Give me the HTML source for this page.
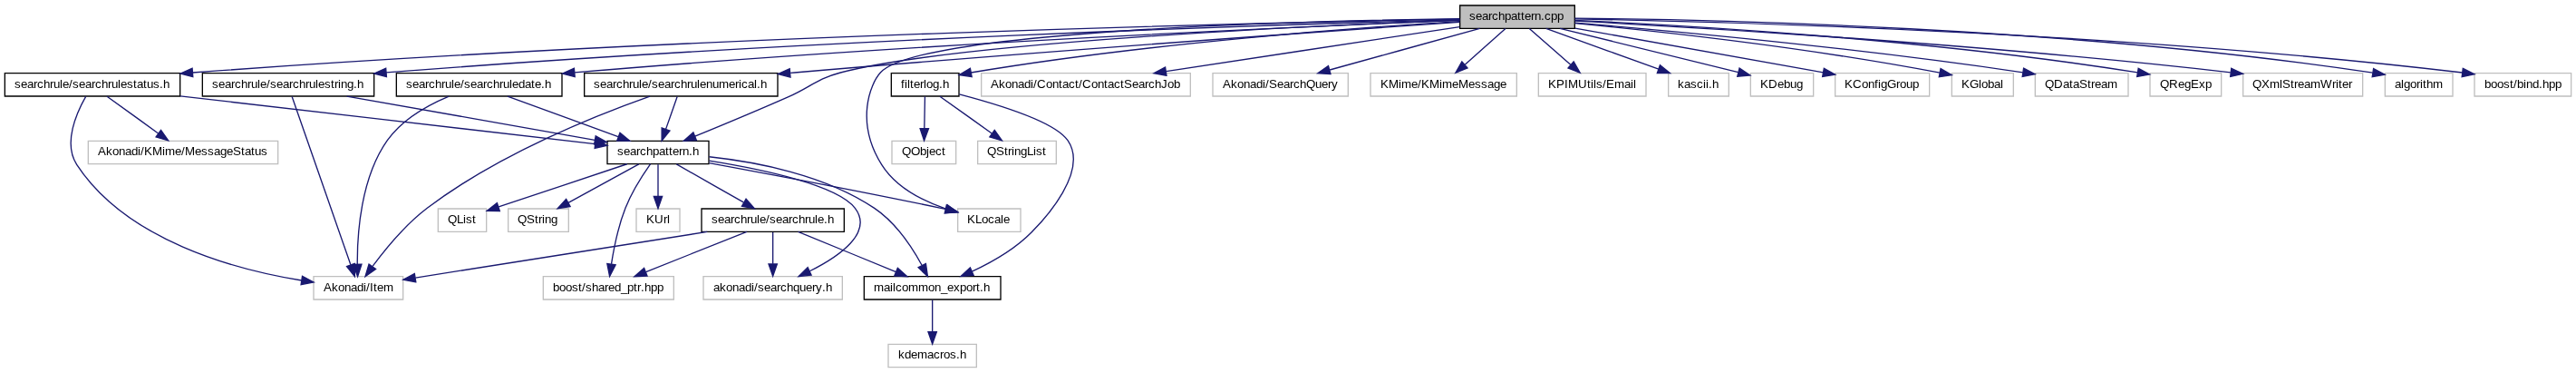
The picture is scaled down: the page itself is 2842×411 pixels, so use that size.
<!DOCTYPE html>
<html><head><meta charset="utf-8"><title>searchpattern.cpp</title>
<style>
html,body{margin:0;padding:0;background:#fff;}
body{width:2842px;height:411px;overflow:hidden;font-family:"Liberation Sans",sans-serif;}
svg{display:block;will-change:transform;}
svg text{font-family:"Liberation Sans",sans-serif;font-size:10px;fill:#000;}
</style></head><body>
<svg width="2842" height="411" viewBox="0 0 2131.5 308.25">
<g transform="scale(1 1) rotate(0) translate(4 304)">
<polygon fill="white" stroke="none" points="-4,4 -4,-304 2127.5,-304 2127.5,4 -4,4"/>
<g>
<polygon fill="#bfbfbf" stroke="black" points="1204,-280.5 1204,-299.5 1299,-299.5 1299,-280.5 1204,-280.5"/>
<text x="1211.75 1217.00 1222.25 1227.50 1230.50 1235.75 1241.00 1246.25 1251.50 1254.50 1257.50 1262.75 1265.75 1271.00 1274.00 1279.25 1284.50" y="-287.5">searchpattern.cpp</text>
</g>
<g>
<polygon fill="white" stroke="black" points="479.5,-224.5 479.5,-243.5 639.5,-243.5 639.5,-224.5 479.5,-224.5"/>
<text x="487.25 492.50 497.75 503.00 506.00 511.25 516.50 519.50 524.75 527.00 532.25 535.25 540.50 545.75 551.00 554.00 559.25 564.50 567.50 572.75 575.00 580.25 585.50 590.75 599.00 604.25 607.25 609.50 614.75 620.00 622.25 625.25" y="-231.5">searchrule/searchrulenumerical.h</text>
</g>
<g>
<path fill="none" stroke="#191970" d="M1203.8,-285.74C1102.44,-278.74 858.12,-261.49 653.5,-244 652.38,-243.9 651.25,-243.81 650.11,-243.71"/>
<polygon fill="#191970" stroke="#191970" points="650.01,-240.19 639.74,-242.79 649.4,-247.16 650.01,-240.19"/>
</g>
<g>
<polygon fill="white" stroke="black" points="498.5,-168.5 498.5,-187.5 582.5,-187.5 582.5,-168.5 498.5,-168.5"/>
<text x="506.75 512.00 517.25 522.50 525.50 530.75 536.00 541.25 546.50 549.50 552.50 557.75 560.75 566.00 569.00" y="-175.5">searchpattern.h</text>
</g>
<g>
<path fill="none" stroke="#191970" d="M1203.91,-287.34C1086.92,-282.91 787.82,-269.39 691.5,-244 671.12,-238.63 667.79,-232.5 648.5,-224 622.55,-212.56 592.78,-200.22 571.08,-191.35"/>
<polygon fill="#191970" stroke="#191970" points="572.3,-188.07 561.72,-187.54 569.66,-194.56 572.3,-188.07"/>
</g>
<g>
<polygon fill="white" stroke="#bfbfbf" points="788.5,-112.5 788.5,-131.5 840.5,-131.5 840.5,-112.5 788.5,-112.5"/>
<text x="796.25 803.00 808.25 813.50 818.75 824.00 826.25" y="-119.5">KLocale</text>
</g>
<g>
<path fill="none" stroke="#191970" d="M1203.61,-288.52C1079.8,-286.78 756.56,-278.92 724.5,-244 716.09,-234.84 703.43,-203.18 725.5,-168 737.25,-149.27 759.43,-138.02 778.71,-131.46"/>
<polygon fill="#191970" stroke="#191970" points="779.94,-134.74 788.46,-128.44 777.87,-128.06 779.94,-134.74"/>
</g>
<g>
<polygon fill="white" stroke="black" points="324,-224.5 324,-243.5 461,-243.5 461,-224.5 324,-224.5"/>
<text x="332.00 337.25 342.50 347.75 350.75 356.00 361.25 364.25 369.50 371.75 377.00 380.00 385.25 390.50 395.75 398.75 404.00 409.25 412.25 417.50 419.75 425.00 430.25 435.50 438.50 443.75 446.75" y="-231.5">searchrule/searchruledate.h</text>
</g>
<g>
<path fill="none" stroke="#191970" d="M1203.89,-287.21C1083.27,-282.46 755.68,-268.31 471.47,-244.03"/>
<polygon fill="#191970" stroke="#191970" points="471.65,-240.53 461.38,-243.16 471.05,-247.51 471.65,-240.53"/>
</g>
<g>
<polygon fill="white" stroke="black" points="733.5,-224.5 733.5,-243.5 789.5,-243.5 789.5,-224.5 733.5,-224.5"/>
<text x="741.50 744.50 746.75 749.00 752.00 757.25 760.25 762.50 767.75 773.00 776.00" y="-231.5">filterlog.h</text>
</g>
<g>
<path fill="none" stroke="#191970" d="M1203.72,-286.34C1120.95,-281.28 945.72,-268.48 799.5,-244 799.4,-243.98 799.3,-243.97 799.2,-243.95"/>
<polygon fill="#191970" stroke="#191970" points="800.12,-240.56 789.64,-242.11 798.79,-247.44 800.12,-240.56"/>
</g>
<g>
<polygon fill="white" stroke="#bfbfbf" points="808,-224.5 808,-243.5 981,-243.5 981,-224.5 808,-224.5"/>
<text x="815.75 822.50 827.75 833.00 838.25 843.50 848.75 851.00 854.00 861.50 866.75 872.00 875.00 880.25 885.50 888.50 891.50 899.00 904.25 909.50 912.50 917.75 923.00 926.00 932.75 938.00 943.25 946.25 951.50 956.75 962.00 967.25" y="-231.5">Akonadi/Contact/ContactSearchJob</text>
</g>
<g>
<path fill="none" stroke="#191970" d="M1203.72,-281.77C1141.25,-272.32 1031.47,-255.72 960.93,-245.05"/>
<polygon fill="#191970" stroke="#191970" points="961.22,-241.55 950.81,-243.52 960.18,-248.47 961.22,-241.55"/>
</g>
<g>
<polygon fill="white" stroke="black" points="0,-224.5 0,-243.5 145,-243.5 145,-224.5 0,-224.5"/>
<text x="8.00 13.25 18.50 23.75 26.75 32.00 37.25 40.25 45.50 47.75 53.00 56.00 61.25 66.50 71.75 74.75 80.00 85.25 88.25 93.50 95.75 101.00 106.25 109.25 114.50 117.50 122.75 128.00 131.00" y="-231.5">searchrule/searchrulestatus.h</text>
</g>
<g>
<path fill="none" stroke="#191970" d="M1203.85,-288.21C1052.32,-285.44 567.73,-274.7 155.39,-244.01"/>
<polygon fill="#191970" stroke="#191970" points="155.59,-240.51 145.35,-243.26 155.06,-247.49 155.59,-240.51"/>
</g>
<g>
<polygon fill="white" stroke="black" points="163.5,-224.5 163.5,-243.5 305.5,-243.5 305.5,-224.5 163.5,-224.5"/>
<text x="171.50 176.75 182.00 187.25 190.25 195.50 200.75 203.75 209.00 211.25 216.50 219.50 224.75 230.00 235.25 238.25 243.50 248.75 251.75 257.00 259.25 264.50 269.75 272.75 275.75 278.00 283.25 288.50 291.50" y="-231.5">searchrule/searchrulestring.h</text>
</g>
<g>
<path fill="none" stroke="#191970" d="M1203.65,-287.78C1066.89,-284.08 662.4,-271.51 315.56,-244.03"/>
<polygon fill="#191970" stroke="#191970" points="315.82,-240.54 305.58,-243.24 315.27,-247.52 315.82,-240.54"/>
</g>
<g>
<polygon fill="white" stroke="#bfbfbf" points="999.5,-224.5 999.5,-243.5 1111.5,-243.5 1111.5,-224.5 999.5,-224.5"/>
<text x="1007.75 1014.50 1019.75 1025.00 1030.25 1035.50 1040.75 1043.00 1046.00 1052.75 1058.00 1063.25 1066.25 1071.50 1076.75 1084.25 1089.50 1094.75 1097.75" y="-231.5">Akonadi/SearchQuery</text>
</g>
<g>
<path fill="none" stroke="#191970" d="M1220.44,-280.44C1186.9,-271.2 1133.3,-256.44 1096.36,-246.26"/>
<polygon fill="#191970" stroke="#191970" points="1096.98,-242.8 1086.41,-243.52 1095.12,-249.55 1096.98,-242.8"/>
</g>
<g>
<polygon fill="white" stroke="#bfbfbf" points="1130,-224.5 1130,-243.5 1251,-243.5 1251,-224.5 1130,-224.5"/>
<text x="1138.25 1145.00 1153.25 1155.50 1163.75 1169.00 1172.00 1178.75 1187.00 1189.25 1197.50 1202.75 1211.00 1216.25 1221.50 1226.75 1232.00 1237.25" y="-231.5">KMime/KMimeMessage</text>
</g>
<g>
<path fill="none" stroke="#191970" d="M1241.7,-280.32C1232.68,-272.34 1219.09,-260.31 1208.18,-250.65"/>
<polygon fill="#191970" stroke="#191970" points="1210.29,-247.84 1200.48,-243.83 1205.65,-253.08 1210.29,-247.84"/>
</g>
<g>
<polygon fill="white" stroke="#bfbfbf" points="1269,-224.5 1269,-243.5 1358,-243.5 1358,-224.5 1269,-224.5"/>
<text x="1277.00 1283.75 1290.50 1293.50 1301.75 1309.25 1312.25 1314.50 1316.75 1322.00 1325.00 1331.75 1340.00 1345.25 1347.50" y="-231.5">KPIMUtils/Email</text>
</g>
<g>
<path fill="none" stroke="#191970" d="M1261.46,-280.32C1270.63,-272.34 1284.44,-260.31 1295.53,-250.65"/>
<polygon fill="#191970" stroke="#191970" points="1298.12,-253.04 1303.36,-243.83 1293.52,-247.76 1298.12,-253.04"/>
</g>
<g>
<polygon fill="white" stroke="#bfbfbf" points="1376.5,-224.5 1376.5,-243.5 1426.5,-243.5 1426.5,-224.5 1376.5,-224.5"/>
<text x="1384.25 1389.50 1394.75 1400.00 1405.25 1407.50 1409.75 1412.75" y="-231.5">kascii.h</text>
</g>
<g>
<path fill="none" stroke="#191970" d="M1275.27,-280.44C1300.39,-271.4 1340.21,-257.06 1368.4,-246.92"/>
<polygon fill="#191970" stroke="#191970" points="1369.62,-250.2 1377.84,-243.52 1367.25,-243.61 1369.62,-250.2"/>
</g>
<g>
<polygon fill="white" stroke="#bfbfbf" points="1444.5,-224.5 1444.5,-243.5 1496.5,-243.5 1496.5,-224.5 1444.5,-224.5"/>
<text x="1452.50 1459.25 1466.75 1472.00 1477.25 1482.50" y="-231.5">KDebug</text>
</g>
<g>
<path fill="none" stroke="#191970" d="M1286.8,-280.5C1321.84,-272.03 1377.34,-258.54 1434.25,-244.29"/>
<polygon fill="#191970" stroke="#191970" points="1435.29,-247.64 1444.14,-241.82 1433.58,-240.85 1435.29,-247.64"/>
</g>
<g>
<polygon fill="white" stroke="#bfbfbf" points="1514.5,-224.5 1514.5,-243.5 1592.5,-243.5 1592.5,-224.5 1514.5,-224.5"/>
<text x="1522.25 1529.00 1536.50 1541.75 1547.00 1550.00 1552.25 1557.50 1565.00 1568.00 1573.25 1578.50" y="-231.5">KConfigGroup</text>
</g>
<g>
<path fill="none" stroke="#191970" d="M1299.28,-280.68C1348.25,-272.12 1426.9,-258.29 1504.52,-244.16"/>
<polygon fill="#191970" stroke="#191970" points="1505.26,-247.59 1514.47,-242.35 1504.01,-240.7 1505.26,-247.59"/>
</g>
<g>
<polygon fill="white" stroke="#bfbfbf" points="1611,-224.5 1611,-243.5 1662,-243.5 1662,-224.5 1611,-224.5"/>
<text x="1619.00 1625.75 1633.25 1635.50 1640.75 1646.00 1651.25" y="-231.5">KGlobal</text>
</g>
<g>
<path fill="none" stroke="#191970" d="M1299.07,-284.77C1364.76,-278.51 1487.08,-265.37 1601.03,-243.86"/>
<polygon fill="#191970" stroke="#191970" points="1601.8,-247.27 1610.97,-241.95 1600.49,-240.4 1601.8,-247.27"/>
</g>
<g>
<polygon fill="white" stroke="#bfbfbf" points="1680,-224.5 1680,-243.5 1757,-243.5 1757,-224.5 1680,-224.5"/>
<text x="1688.00 1695.50 1703.00 1708.25 1711.25 1716.50 1723.25 1726.25 1729.25 1734.50 1739.75" y="-231.5">QDataStream</text>
</g>
<g>
<path fill="none" stroke="#191970" d="M1299.22,-285.18C1375.47,-278.79 1529.69,-264.71 1669.76,-244.16"/>
<polygon fill="#191970" stroke="#191970" points="1670.44,-247.6 1679.81,-242.67 1669.41,-240.67 1670.44,-247.6"/>
</g>
<g>
<polygon fill="white" stroke="#bfbfbf" points="1775,-224.5 1775,-243.5 1834,-243.5 1834,-224.5 1775,-224.5"/>
<text x="1783.25 1790.75 1798.25 1803.50 1808.75 1815.50 1820.75" y="-231.5">QRegExp</text>
</g>
<g>
<path fill="none" stroke="#191970" d="M1299,-287.16C1388.46,-283.19 1588.12,-271.96 1764.72,-244.09"/>
<polygon fill="#191970" stroke="#191970" points="1765.39,-247.52 1774.71,-242.49 1764.28,-240.61 1765.39,-247.52"/>
</g>
<g>
<polygon fill="white" stroke="#bfbfbf" points="1852,-224.5 1852,-243.5 1951,-243.5 1951,-224.5 1852,-224.5"/>
<text x="1859.75 1867.25 1874.00 1882.25 1884.50 1891.25 1894.25 1897.25 1902.50 1907.75 1916.00 1925.75 1928.75 1931.00 1934.00 1939.25" y="-231.5">QXmlStreamWriter</text>
</g>
<g>
<path fill="none" stroke="#191970" d="M1299.2,-286.64C1398.33,-281.46 1634.03,-267.73 1841.68,-244.13"/>
<polygon fill="#191970" stroke="#191970" points="1842.32,-247.58 1851.86,-242.96 1841.53,-240.63 1842.32,-247.58"/>
</g>
<g>
<polygon fill="white" stroke="#bfbfbf" points="1969.5,-224.5 1969.5,-243.5 2025.5,-243.5 2025.5,-224.5 1969.5,-224.5"/>
<text x="1977.50 1982.75 1985.00 1990.25 1995.50 1998.50 2000.75 2003.75 2009.00" y="-231.5">algorithm</text>
</g>
<g>
<path fill="none" stroke="#191970" d="M1299.1,-288.85C1412.16,-287.87 1705.71,-281.73 1959.18,-243.93"/>
<polygon fill="#191970" stroke="#191970" points="1959.96,-247.35 1969.32,-242.39 1958.91,-240.43 1959.96,-247.35"/>
</g>
<g>
<polygon fill="white" stroke="#bfbfbf" points="2043.5,-224.5 2043.5,-243.5 2123.5,-243.5 2123.5,-224.5 2043.5,-224.5"/>
<text x="2051.75 2057.00 2062.25 2067.50 2072.75 2075.75 2078.75 2084.00 2086.25 2091.50 2096.75 2099.75 2105.00 2110.25" y="-231.5">boost/bind.hpp</text>
</g>
<g>
<path fill="none" stroke="#191970" d="M1299.35,-288.32C1420.54,-286.14 1749.53,-277.49 2033.37,-243.98"/>
<polygon fill="#191970" stroke="#191970" points="2033.94,-247.44 2043.45,-242.77 2033.11,-240.48 2033.94,-247.44"/>
</g>
<g>
<path fill="none" stroke="#191970" d="M556.36,-224.08C553.82,-216.85 550.14,-206.41 546.97,-197.4"/>
<polygon fill="#191970" stroke="#191970" points="550.2,-196.02 543.58,-187.75 543.6,-198.35 550.2,-196.02"/>
</g>
<g>
<polygon fill="white" stroke="#bfbfbf" points="255.5,-56.5 255.5,-75.5 329.5,-75.5 329.5,-56.5 255.5,-56.5"/>
<text x="263.75 270.50 275.75 281.00 286.25 291.50 296.75 299.00 302.00 305.00 308.00 313.25" y="-63.5">Akonadi/Item</text>
</g>
<g>
<path fill="none" stroke="#191970" d="M533.75,-224.45C492.23,-209.86 409.1,-177.27 349.5,-132 331.46,-118.3 314.88,-98.16 304.31,-83.93"/>
<polygon fill="#191970" stroke="#191970" points="306.96,-81.63 298.27,-75.57 301.28,-85.73 306.96,-81.63"/>
</g>
<g>
<polygon fill="white" stroke="black" points="711,-56.5 711,-75.5 824,-75.5 824,-56.5 711,-56.5"/>
<text x="719.00 727.25 732.50 734.75 737.00 742.25 747.50 755.75 764.00 769.25 774.50 779.75 785.00 790.25 795.50 800.75 803.75 806.75 809.75" y="-63.5">mailcommon_export.h</text>
</g>
<g>
<path fill="none" stroke="#191970" d="M582.84,-174.43C621.33,-170.32 678.24,-159.65 719.5,-132 737.11,-120.2 750.66,-99.68 758.8,-84.85"/>
<polygon fill="#191970" stroke="#191970" points="762.06,-86.15 763.56,-75.66 755.85,-82.93 762.06,-86.15"/>
</g>
<g>
<polygon fill="white" stroke="#bfbfbf" points="522.5,-112.5 522.5,-131.5 558.5,-131.5 558.5,-112.5 522.5,-112.5"/>
<text x="530.75 537.50 545.00 548.00" y="-119.5">KUrl</text>
</g>
<g>
<path fill="none" stroke="#191970" d="M540.5,-168.08C540.5,-161.01 540.5,-150.86 540.5,-141.99"/>
<polygon fill="#191970" stroke="#191970" points="544,-141.75 540.5,-131.75 537,-141.75 544,-141.75"/>
</g>
<g>
<polygon fill="white" stroke="#bfbfbf" points="358.5,-112.5 358.5,-131.5 398.5,-131.5 398.5,-112.5 358.5,-112.5"/>
<text x="366.50 374.00 379.25 381.50 386.75" y="-119.5">QList</text>
</g>
<g>
<path fill="none" stroke="#191970" d="M514.83,-168.44C485.97,-158.82 439.17,-143.22 408.61,-133.04"/>
<polygon fill="#191970" stroke="#191970" points="409.51,-129.65 398.92,-129.81 407.3,-136.29 409.51,-129.65"/>
</g>
<g>
<polygon fill="white" stroke="#bfbfbf" points="445.5,-56.5 445.5,-75.5 553.5,-75.5 553.5,-56.5 445.5,-56.5"/>
<text x="453.50 458.75 464.00 469.25 474.50 477.50 480.50 485.75 491.00 496.25 499.25 504.50 509.75 515.00 520.25 523.25 526.25 529.25 534.50 539.75" y="-63.5">boost/shared_ptr.hpp</text>
</g>
<g>
<path fill="none" stroke="#191970" d="M534.22,-168.48C528.06,-159.75 518.86,-145.56 513.5,-132 507.59,-117.05 503.97,-99.14 501.9,-85.91"/>
<polygon fill="#191970" stroke="#191970" points="505.31,-85.09 500.45,-75.68 498.38,-86.07 505.31,-85.09"/>
</g>
<g>
<path fill="none" stroke="#191970" d="M582.85,-169.27C629.79,-160.6 707.68,-145.94 774.5,-132 775.75,-131.74 777.03,-131.47 778.32,-131.19"/>
<polygon fill="#191970" stroke="#191970" points="779.25,-134.57 788.28,-129.02 777.76,-127.73 779.25,-134.57"/>
</g>
<g>
<polygon fill="white" stroke="#bfbfbf" points="578,-56.5 578,-75.5 693,-75.5 693,-56.5 578,-56.5"/>
<text x="586.25 591.50 596.75 602.00 607.25 612.50 617.75 620.00 623.00 628.25 633.50 638.75 641.75 647.00 652.25 657.50 662.75 668.00 671.00 676.25 679.25" y="-63.5">akonadi/searchquery.h</text>
</g>
<g>
<path fill="none" stroke="#191970" d="M582.87,-171.16C626.12,-164.23 688.92,-151.15 703.5,-132 718.85,-111.84 690.61,-92.23 665.98,-79.92"/>
<polygon fill="#191970" stroke="#191970" points="667.35,-76.7 656.81,-75.57 664.35,-83.02 667.35,-76.7"/>
</g>
<g>
<polygon fill="white" stroke="#bfbfbf" points="416.5,-112.5 416.5,-131.5 466.5,-131.5 466.5,-112.5 416.5,-112.5"/>
<text x="424.25 431.75 438.50 441.50 444.50 446.75 452.00" y="-119.5">QString</text>
</g>
<g>
<path fill="none" stroke="#191970" d="M524.59,-168.32C508.86,-159.74 484.56,-146.49 466.29,-136.52"/>
<polygon fill="#191970" stroke="#191970" points="467.82,-133.37 457.37,-131.65 464.47,-139.52 467.82,-133.37"/>
</g>
<g>
<polygon fill="white" stroke="black" points="576.5,-112.5 576.5,-131.5 694.5,-131.5 694.5,-112.5 576.5,-112.5"/>
<text x="584.75 590.00 595.25 600.50 603.50 608.75 614.00 617.00 622.25 624.50 629.75 632.75 638.00 643.25 648.50 651.50 656.75 662.00 665.00 670.25 672.50 677.75 680.75" y="-119.5">searchrule/searchrule.h</text>
</g>
<g>
<path fill="none" stroke="#191970" d="M555.76,-168.32C570.72,-159.82 593.75,-146.73 611.23,-136.8"/>
<polygon fill="#191970" stroke="#191970" points="613.31,-139.64 620.27,-131.65 609.85,-133.55 613.31,-139.64"/>
</g>
<g>
<polygon fill="white" stroke="#bfbfbf" points="731,-0.5 731,-19.5 804,-19.5 804,-0.5 731,-0.5"/>
<text x="739.25 744.50 749.75 755.00 763.25 768.50 773.75 776.75 782.00 787.25 790.25" y="-7.5">kdemacros.h</text>
</g>
<g>
<path fill="none" stroke="#191970" d="M767.5,-56.08C767.5,-49.01 767.5,-38.86 767.5,-29.99"/>
<polygon fill="#191970" stroke="#191970" points="771,-29.75 767.5,-19.75 764,-29.75 771,-29.75"/>
</g>
<g>
<path fill="none" stroke="#191970" d="M656.42,-112.44C678.24,-103.52 712.65,-89.44 737.39,-79.32"/>
<polygon fill="#191970" stroke="#191970" points="738.75,-82.54 746.68,-75.52 736.1,-76.06 738.75,-82.54"/>
</g>
<g>
<path fill="none" stroke="#191970" d="M613.95,-112.44C591.47,-103.52 556.01,-89.44 530.52,-79.32"/>
<polygon fill="#191970" stroke="#191970" points="531.53,-75.95 520.95,-75.52 528.95,-82.46 531.53,-75.95"/>
</g>
<g>
<path fill="none" stroke="#191970" d="M635.5,-112.08C635.5,-105.01 635.5,-94.86 635.5,-85.99"/>
<polygon fill="#191970" stroke="#191970" points="639,-85.75 635.5,-75.75 632,-85.75 639,-85.75"/>
</g>
<g>
<path fill="none" stroke="#191970" d="M581.15,-112.44C514.59,-101.96 402.92,-84.38 339.76,-74.44"/>
<polygon fill="#191970" stroke="#191970" points="340.1,-70.95 329.68,-72.85 339.01,-77.87 340.1,-70.95"/>
</g>
<g>
<path fill="none" stroke="#191970" d="M415.95,-224.44C440.63,-215.44 479.69,-201.19 507.48,-191.05"/>
<polygon fill="#191970" stroke="#191970" points="508.96,-194.23 517.16,-187.52 506.56,-187.66 508.96,-194.23"/>
</g>
<g>
<path fill="none" stroke="#191970" d="M367.47,-224.45C350.47,-217.34 328.9,-205.52 316.5,-188 294.61,-157.08 291.51,-111.11 291.69,-85.66"/>
<polygon fill="#191970" stroke="#191970" points="295.19,-85.62 291.94,-75.54 288.19,-85.44 295.19,-85.62"/>
</g>
<g>
<path fill="none" stroke="#191970" d="M789.76,-226.15C821.22,-217.89 869.02,-203.21 879.5,-188 896.96,-162.65 860.77,-123.38 849.5,-112 835.65,-98.01 816.53,-87.18 800.24,-79.65"/>
<polygon fill="#191970" stroke="#191970" points="801.6,-76.43 791.04,-75.61 798.78,-82.84 801.6,-76.43"/>
</g>
<g>
<polygon fill="white" stroke="#bfbfbf" points="734,-168.5 734,-187.5 787,-187.5 787,-168.5 734,-168.5"/>
<text x="742.25 749.75 757.25 762.50 764.75 770.00 775.25" y="-175.5">QObject</text>
</g>
<g>
<path fill="none" stroke="#191970" d="M761.33,-224.08C761.2,-217.01 761.02,-206.86 760.85,-197.99"/>
<polygon fill="#191970" stroke="#191970" points="764.35,-197.68 760.66,-187.75 757.35,-197.81 764.35,-197.68"/>
</g>
<g>
<polygon fill="white" stroke="#bfbfbf" points="805,-168.5 805,-187.5 870,-187.5 870,-168.5 805,-168.5"/>
<text x="812.75 820.25 827.00 830.00 833.00 835.25 840.50 845.75 851.00 853.25 858.50" y="-175.5">QStringList</text>
</g>
<g>
<path fill="none" stroke="#191970" d="M773.71,-224.32C785.28,-216.11 802.88,-203.6 816.66,-193.81"/>
<polygon fill="#191970" stroke="#191970" points="818.94,-196.48 825.07,-187.83 814.89,-190.77 818.94,-196.48"/>
</g>
<g>
<path fill="none" stroke="#191970" d="M145.11,-224.62C240.25,-213.64 404.77,-194.66 488.42,-185.01"/>
<polygon fill="#191970" stroke="#191970" points="488.92,-188.47 498.45,-183.85 488.12,-181.52 488.92,-188.47"/>
</g>
<g>
<path fill="none" stroke="#191970" d="M66.99,-224.24C59.43,-210.98 48.01,-185.51 59.5,-168 100.73,-105.2 190.3,-81.25 245.59,-72.26"/>
<polygon fill="#191970" stroke="#191970" points="246.14,-75.72 255.5,-70.75 245.08,-68.8 246.14,-75.72"/>
</g>
<g>
<polygon fill="white" stroke="#bfbfbf" points="69,-168.5 69,-187.5 226,-187.5 226,-168.5 69,-168.5"/>
<text x="77.00 83.75 89.00 94.25 99.50 104.75 110.00 112.25 115.25 122.00 130.25 132.50 140.75 146.00 149.00 157.25 162.50 167.75 173.00 178.25 183.50 188.75 195.50 198.50 203.75 206.75 212.00" y="-175.5">Akonadi/KMime/MessageStatus</text>
</g>
<g>
<path fill="none" stroke="#191970" d="M84.55,-224.32C95.96,-216.11 113.33,-203.6 126.93,-193.81"/>
<polygon fill="#191970" stroke="#191970" points="129.16,-196.52 135.23,-187.83 125.07,-190.84 129.16,-196.52"/>
</g>
<g>
<path fill="none" stroke="#191970" d="M282.99,-224.44C338.95,-214.57 430.64,-198.39 488.17,-188.23"/>
<polygon fill="#191970" stroke="#191970" points="488.91,-191.66 498.15,-186.47 487.7,-184.76 488.91,-191.66"/>
</g>
<g>
<path fill="none" stroke="#191970" d="M237.62,-224.08C246.79,-197.83 273.79,-120.55 286.17,-85.12"/>
<polygon fill="#191970" stroke="#191970" points="289.51,-86.16 289.51,-75.57 282.9,-83.85 289.51,-86.16"/>
</g>
</g>
</svg>

</body></html>
